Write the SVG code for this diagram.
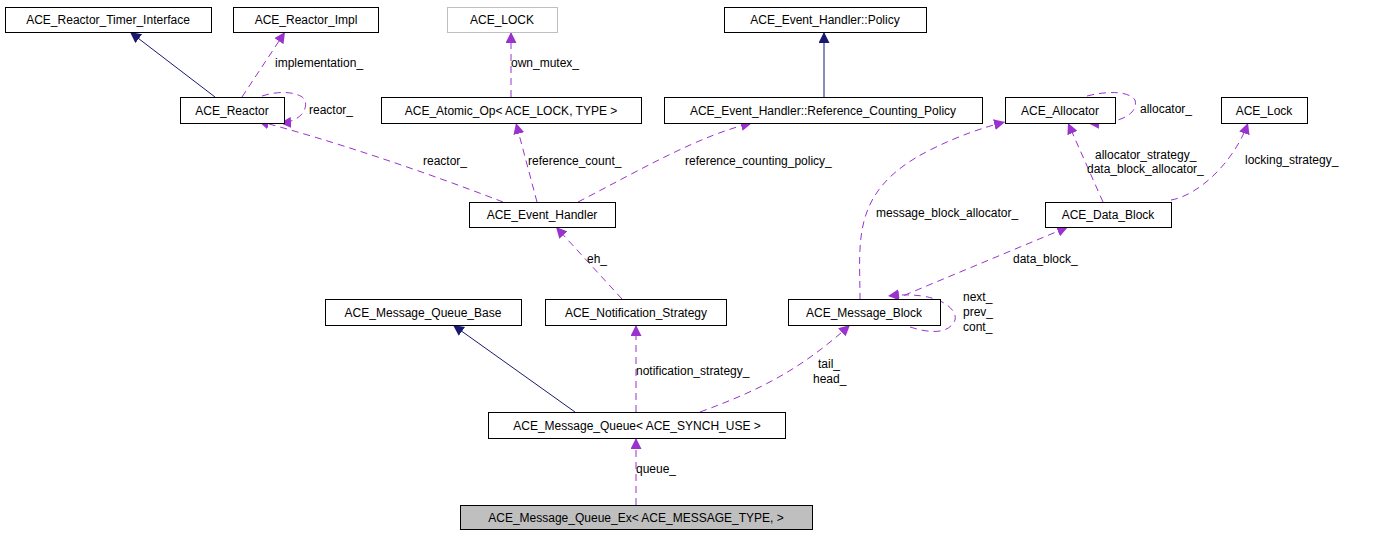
<svg xmlns="http://www.w3.org/2000/svg" width="1373" height="533" viewBox="0 0 1373 533">
<style>
text{font-family:"Liberation Sans",Arial,sans-serif;font-size:12px;fill:#000}
.n rect{fill:#fff;stroke:#000;stroke-width:1}
.n text{text-anchor:middle}
.d{fill:none;stroke:#9a32cd;stroke-dasharray:7,5;marker-end:url(#mp)}
.s{fill:none;stroke:#191970;marker-end:url(#mb)}
.l{font-size:12px}
</style>
<defs>
<marker id="mp" viewBox="0 0 10 10" refX="10" refY="5" markerWidth="11" markerHeight="11" markerUnits="userSpaceOnUse" orient="auto"><path d="M0,0L10,5L0,10z" fill="#9a32cd"/></marker>
<marker id="mb" viewBox="0 0 10 10" refX="10" refY="5" markerWidth="11" markerHeight="11" markerUnits="userSpaceOnUse" orient="auto"><path d="M0,0L10,5L0,10z" fill="#191970"/></marker>
</defs>
<rect width="1373" height="533" fill="#fff"/>
<g id="edges">
<path class="s" d="M215,97L130,32"/>
<path class="d" d="M242,97L285,32"/>
<path class="d" d="M262,96C280,90 300,92 305,100C308,110 300,122 280,123"/>
<path class="d" d="M503,202C420,170 330,140 258,121"/>
<path class="d" d="M537,202L516,123"/>
<path class="d" d="M578,202C640,170 700,135 752,123"/>
<path class="d" d="M511,97L511,32"/>
<path class="s" d="M824,97L824,32"/>
<path class="d" d="M1087,96C1110,90 1130,92 1135,100C1138,110 1128,124 1088,123"/>
<path class="d" d="M1103,202L1068,123"/>
<path class="d" d="M1171,200C1200,195 1235,160 1248,123"/>
<path class="d" d="M860,300C860,240 850,190 930,150C960,135 985,127 1005,122"/>
<path class="d" d="M893,300L1068,227"/>
<path class="d" d="M910,327C935,335 950,332 955,320C958,310 940,290 888,296"/>
<path class="d" d="M622,299L556,227"/>
<path class="s" d="M575,412L453,325"/>
<path class="d" d="M636,412L636,325"/>
<path class="d" d="M700,412C760,390 800,370 850,325"/>
<path class="d" d="M636,505L636,438"/>
<text x="275" y="67">implementation_</text>
<text x="309" y="114">reactor_</text>
<text x="423" y="165">reactor_</text>
<text x="528" y="165">reference_count_</text>
<text x="685" y="165">reference_counting_policy_</text>
<text x="511" y="67">own_mutex_</text>
<text x="1140" y="113">allocator_</text>
<text x="1095" y="159">allocator_strategy_</text>
<text x="1087" y="173">data_block_allocator_</text>
<text x="1245" y="164">locking_strategy_</text>
<text x="876" y="217">message_block_allocator_</text>
<text x="1013" y="263">data_block_</text>
<text x="963" y="301">next_</text>
<text x="963" y="316">prev_</text>
<text x="963" y="331">cont_</text>
<text x="587" y="263">eh_</text>
<text x="636" y="375">notification_strategy_</text>
<text x="818" y="368">tail_</text>
<text x="813" y="383">head_</text>
<text x="636" y="473">queue_</text>
</g>
<g id="n1" class="n"><rect x="5.5" y="7.5" width="206" height="25"/><text x="108" y="24">ACE_Reactor_Timer_Interface</text></g>
<g id="n2" class="n"><rect x="233.5" y="7.5" width="145" height="25"/><text x="306" y="24">ACE_Reactor_Impl</text></g>
<g id="n3" class="n"><rect x="447.5" y="7.5" width="110" height="25" style="stroke:#bfbfbf"/><text x="502" y="24">ACE_LOCK</text></g>
<g id="n4" class="n"><rect x="724.5" y="7.5" width="202" height="25"/><text x="825" y="24">ACE_Event_Handler::Policy</text></g>
<g id="n5" class="n"><rect x="180.5" y="97.5" width="104" height="26"/><text x="232" y="115">ACE_Reactor</text></g>
<g id="n6" class="n"><rect x="381.5" y="97.5" width="260" height="26"/><text x="511" y="115">ACE_Atomic_Op&lt; ACE_LOCK, TYPE &gt;</text></g>
<g id="n7" class="n"><rect x="664.5" y="97.5" width="318" height="26"/><text x="823" y="115">ACE_Event_Handler::Reference_Counting_Policy</text></g>
<g id="n8" class="n"><rect x="1005.5" y="97.5" width="110" height="26"/><text x="1060" y="115">ACE_Allocator</text></g>
<g id="n9" class="n"><rect x="1221.5" y="97.5" width="86" height="26"/><text x="1264" y="115">ACE_Lock</text></g>
<g id="n10" class="n"><rect x="469.5" y="202.5" width="146" height="25"/><text x="542" y="219">ACE_Event_Handler</text></g>
<g id="n11" class="n"><rect x="1045.5" y="202.5" width="126" height="25"/><text x="1108" y="219">ACE_Data_Block</text></g>
<g id="n12" class="n"><rect x="325.5" y="299.5" width="196" height="26"/><text x="423" y="317">ACE_Message_Queue_Base</text></g>
<g id="n13" class="n"><rect x="545.5" y="299.5" width="181" height="26"/><text x="636" y="317">ACE_Notification_Strategy</text></g>
<g id="n14" class="n"><rect x="788.5" y="299.5" width="152" height="26"/><text x="864" y="317">ACE_Message_Block</text></g>
<g id="n15" class="n"><rect x="488.5" y="412.5" width="297" height="26"/><text x="637" y="430">ACE_Message_Queue&lt; ACE_SYNCH_USE &gt;</text></g>
<g id="n16" class="n"><rect x="460.5" y="505.5" width="352" height="24" style="fill:#bfbfbf"/><text x="636" y="522">ACE_Message_Queue_Ex&lt; ACE_MESSAGE_TYPE, &gt;</text></g>
</svg>
